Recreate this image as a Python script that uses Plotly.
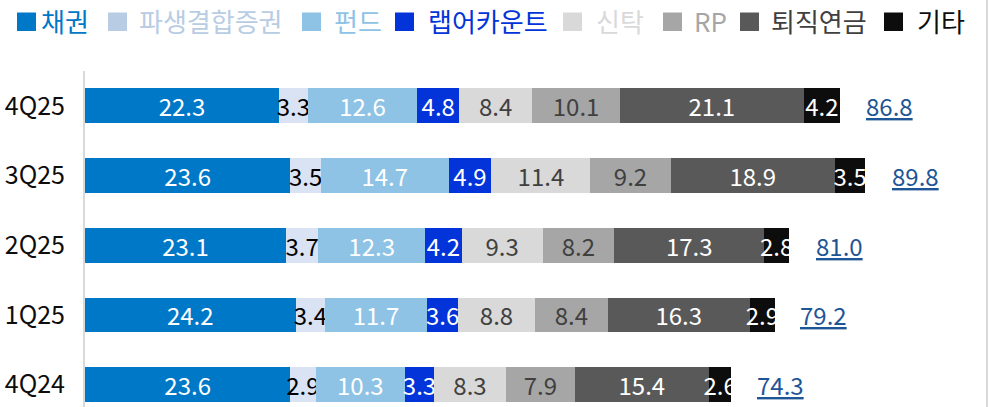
import plotly.graph_objects as go

categories = ['4Q24', '1Q25', '2Q25', '3Q25', '4Q25']
series_names = ['채권', '파생결합증권', '펀드', '랩어카운트', '신탁', 'RP', '퇴직연금', '기타']
bond = [23.6, 24.2, 23.1, 23.6, 22.3]
dls = [2.9, 3.4, 3.7, 3.5, 3.3]
fund = [10.3, 11.7, 12.3, 14.7, 12.6]
wrap = [3.3, 3.6, 4.2, 4.9, 4.8]
trust = [8.3, 8.8, 9.3, 11.4, 8.4]
rp = [7.9, 8.4, 8.2, 9.2, 10.1]
pension = [15.4, 16.3, 17.3, 18.9, 21.1]
other = [2.6, 2.9, 2.8, 3.5, 4.2]
totals = [74.3, 79.2, 81.0, 89.8, 86.8]
unit_label = '(조원)'

series_values = [bond, dls, fund, wrap, trust, rp, pension, other]
bar_colors = ['#0078C8', '#DAE3F3', '#8EC3E6', '#0234DA', '#D9D9D9', '#A6A6A6', '#595959', '#0D0D0D']
label_colors = ['#FFFFFF', '#000000', '#FFFFFF', '#FFFFFF', '#404040', '#404040', '#FFFFFF', '#FFFFFF']
legend_sq = ['#0078C8', '#B8CCE4', '#8EC3E6', '#0234DA', '#D9D9D9', '#A6A6A6', '#595959', '#0D0D0D']
legend_txt = ['#0078C8', '#B8CCE4', '#8EC3E6', '#0234DA', '#D9D9D9', '#A6A6A6', '#404040', '#0D0D0D']
legend_sq_x = [17, 108, 302, 395, 563, 663, 740, 884]
legend_txt_x = [39, 137, 332, 426, 594, 692, 769, 915]

FONT = 'Noto Sans CJK KR'
W, H = 996, 407
L, R, T, B = 85, 11, 71, 0
pw = W - L - R
ph = H - T - B


def px_x(p):
    return (p - L) / pw


def px_y(p):
    return (H - B - p) / ph


fig = go.Figure()
for name, vals, c, lc in zip(series_names, series_values, bar_colors, label_colors):
    fig.add_trace(go.Bar(
        y=categories, x=vals, orientation='h', name=name,
        marker=dict(color=c, line=dict(width=0)),
        text=[f'{v:.1f}' for v in vals], textposition='inside',
        insidetextanchor='middle', textangle=0,
        textfont=dict(color=lc, size=24, family=FONT),
        width=0.5, showlegend=False, cliponaxis=False,
    ))

annotations = []
for cat, tot in zip(categories, totals):
    annotations.append(dict(
        x=tot, y=cat, xref='x', yref='y', text=f'<u>{tot:.1f}</u>',
        showarrow=False, xanchor='left', yanchor='middle', xshift=24,
        font=dict(color='#1E5596', size=24, family=FONT)))

shapes = []
for name, sq, tc, sx, tx in zip(series_names, legend_sq, legend_txt, legend_sq_x, legend_txt_x):
    shapes.append(dict(type='rect', xref='paper', yref='paper',
                       x0=px_x(sx), x1=px_x(sx + 19), y0=px_y(31), y1=px_y(12.5),
                       fillcolor=sq, line=dict(width=0)))
    annotations.append(dict(
        x=px_x(tx), y=px_y(20), xref='paper', yref='paper', text=name,
        showarrow=False, xanchor='left', yanchor='middle',
        font=dict(size=26, family=FONT, color=tc)))

annotations.append(dict(
    x=px_x(948), y=px_y(4), xref='paper', yref='paper',
    text=unit_label, showarrow=False, xanchor='center', yanchor='bottom',
    font=dict(size=20, family=FONT, color='#404040')))

shapes.append(dict(type='line', xref='paper', yref='paper',
                   x0=px_x(987), x1=px_x(987), y0=-0.1, y1=px_y(0) + 0.1,
                   line=dict(color='#D9D9D9', width=2)))

fig.update_layout(
    barmode='stack', width=W, height=H,
    margin=dict(l=L, r=R, t=T, b=B, pad=0, autoexpand=False),
    paper_bgcolor='white', plot_bgcolor='white',
    uniformtext=dict(minsize=24, mode='show'),
    annotations=annotations, shapes=shapes,
    xaxis=dict(range=[0, pw / 8.70], visible=False, showgrid=False, zeroline=False,
               automargin=False),
    yaxis=dict(categoryorder='array', categoryarray=categories, range=[-0.32, 4.5],
               showline=True, linecolor='#D9D9D9', linewidth=2, showgrid=False,
               ticks='', ticklabelstandoff=13, automargin=False,
               tickfont=dict(size=25, family=FONT, color='#0D0D0D')),
    bargap=0.5,
)

fig.write_html('out.html', config={'displayModeBar': False},
               post_script="document.body.style.margin='0';document.body.style.overflow='hidden';")
